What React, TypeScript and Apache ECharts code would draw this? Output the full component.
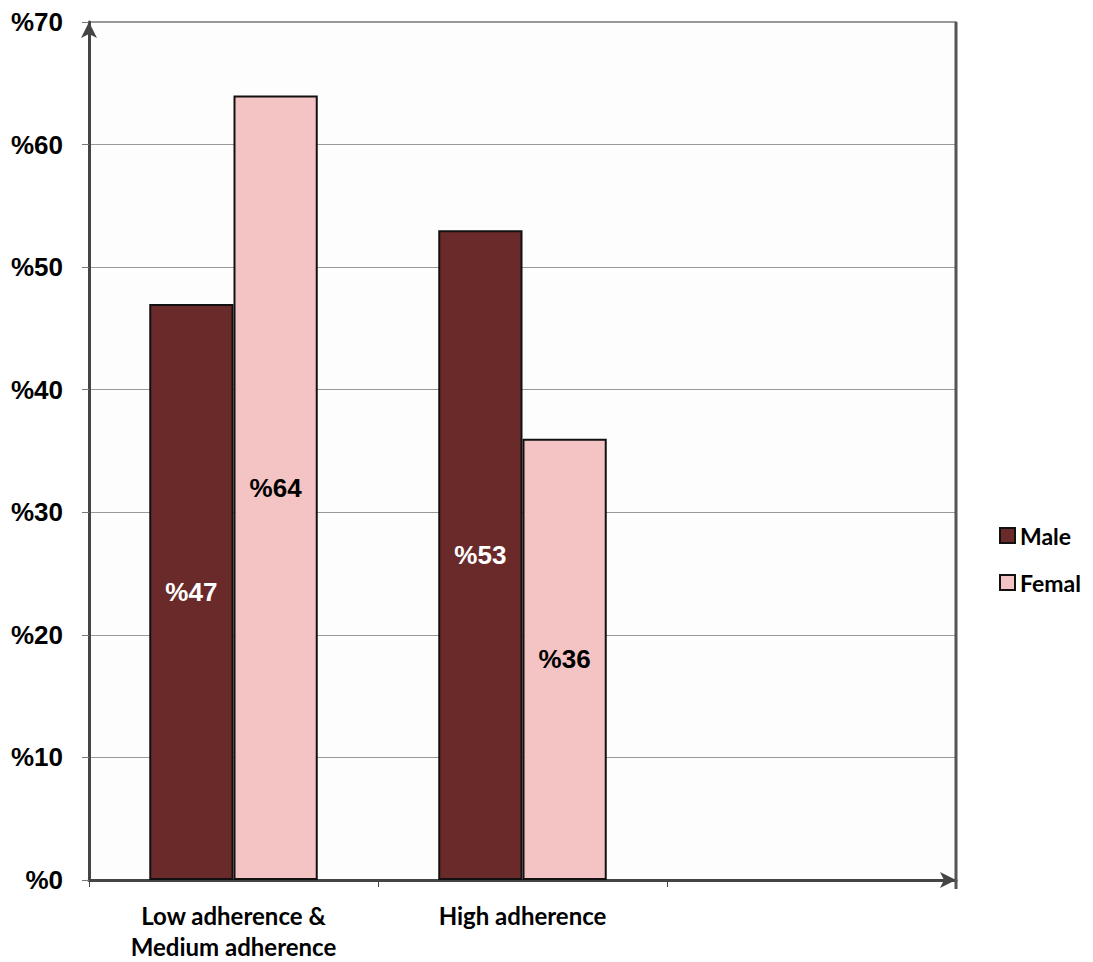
import React, { useEffect, useRef } from "react";
import * as echarts from "echarts";

const categories = ["Low adherence &\nMedium adherence", "High adherence", ""];
const maleValues = [47, 53, null];
const femalValues = [64, 36, null];
const seriesNames = ["Male", "Femal"];

export default function App() {
  const ref = useRef<HTMLDivElement>(null);
  useEffect(() => {
    const chart = echarts.init(ref.current!, null, { renderer: "svg" });
    const arial = "Liberation Sans, Arial, sans-serif";
    const calibri = "Lato, Carlito, sans-serif";
    chart.setOption({
      animation: false,
      backgroundColor: "#fff",
      grid: {
        left: 89,
        right: 137,
        top: 22,
        bottom: 80,
        show: true,
        backgroundColor: "#fdfdfd",
        borderColor: "#777",
        borderWidth: 1.5,
      },
      graphic: [
        {
          type: "line",
          shape: { x1: 956, y1: 22, x2: 956, y2: 889 },
          style: { stroke: "#555", lineWidth: 3 },
          z: 1,
        },
      ],
      legend: {
        orient: "vertical",
        left: 994,
        top: 519,
        itemWidth: 15,
        itemHeight: 15,
        itemGap: 24,
        icon: "rect",
        textStyle: { fontFamily: calibri, fontWeight: "bold", fontSize: 23, color: "#000" },
        data: seriesNames,
      },
      xAxis: {
        type: "category",
        data: categories,
        axisLine: {
          show: true,
          lineStyle: { color: "#444", width: 3 },
          symbol: ["none", "arrow"],
          symbolSize: [12, 16],
        },
        axisTick: { show: true, alignWithLabel: false, length: 7, lineStyle: { color: "#444", width: 1 } },
        axisLabel: {
          margin: 20,
          fontFamily: calibri,
          fontWeight: "bold",
          fontSize: 24,
          lineHeight: 31,
          color: "#000",
        },
        splitLine: { show: false },
      },
      yAxis: {
        type: "value",
        min: 0,
        max: 70,
        interval: 10,
        axisLine: {
          show: true,
          lineStyle: { color: "#444", width: 3 },
          symbol: ["none", "arrow"],
          symbolSize: [12, 16],
        },
        axisTick: { show: true, length: 7, lineStyle: { color: "#777", width: 1 } },
        axisLabel: {
          margin: 26,
          formatter: (v: number) => "%" + v,
          color: "#000",
          fontFamily: arial,
          fontWeight: "bold",
          fontSize: 26,
        },
        splitLine: { show: true, lineStyle: { color: "#999", width: 1 } },
      },
      series: [
        {
          name: seriesNames[0],
          type: "bar",
          data: maleValues,
          barGap: "0%",
          barCategoryGap: "41.7%",
          itemStyle: { color: "#6B2A2A", borderColor: "#111", borderWidth: 2 },
          label: {
            show: true,
            position: "inside",
            formatter: (p: any) => "%" + p.value,
            color: "#fff",
            fontFamily: arial,
            fontWeight: "bold",
            fontSize: 26,
          },
        },
        {
          name: seriesNames[1],
          type: "bar",
          data: femalValues,
          itemStyle: { color: "#F4C4C4", borderColor: "#111", borderWidth: 2 },
          label: {
            show: true,
            position: "inside",
            formatter: (p: any) => "%" + p.value,
            color: "#000",
            fontFamily: arial,
            fontWeight: "bold",
            fontSize: 26,
          },
        },
      ],
    });
    return () => chart.dispose();
  }, []);
  return <div ref={ref} style={{ position: "absolute", left: 0, top: 0, width: 1093, height: 962 }} />;
}
